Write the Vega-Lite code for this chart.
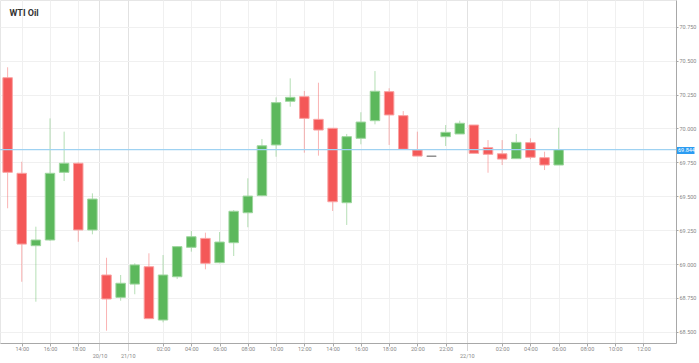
{
  "$schema": "https://vega.github.io/schema/vega-lite/v6.json",
  "width": 676,
  "height": 343,
  "autosize": {"type": "none"},
  "padding": {"left": 0, "top": 0, "right": 23, "bottom": 20},
  "background": "white",
  "title": {"text": "WTI Oil", "anchor": "start", "dx": 10, "offset": -18, "baseline": "top", "fontSize": 9, "fontWeight": "bold", "color": "#333", "font": "Roboto"},
  "config": {
    "view": {"stroke": "#e6e6e6"},
    "axis": {"labelFont": "Roboto", "labelFontSize": 5.5, "labelColor": "#888", "domainColor": "#a8a8a8", "tickColor": "#a8a8a8", "gridColor": "#f0f0f0", "labelOverlap": false, "labelSeparation": -50, "labelBound": false, "labelFlush": false, "title": null}
  },
  "data": {"values": [
    {"i": 0, "o": 70.374, "h": 70.451, "l": 69.411, "c": 69.676},
    {"i": 1, "o": 69.669, "h": 69.754, "l": 68.869, "c": 69.147},
    {"i": 2, "o": 69.135, "h": 69.275, "l": 68.722, "c": 69.177},
    {"i": 3, "o": 69.177, "h": 70.074, "l": 69.170, "c": 69.669},
    {"i": 4, "o": 69.676, "h": 69.976, "l": 69.612, "c": 69.743},
    {"i": 5, "o": 69.743, "h": 69.750, "l": 69.164, "c": 69.251},
    {"i": 6, "o": 69.251, "h": 69.521, "l": 69.219, "c": 69.479},
    {"i": 7, "o": 68.919, "h": 69.046, "l": 68.508, "c": 68.742},
    {"i": 8, "o": 68.754, "h": 68.919, "l": 68.729, "c": 68.858},
    {"i": 9, "o": 68.852, "h": 69.005, "l": 68.777, "c": 68.993},
    {"i": 10, "o": 68.980, "h": 69.079, "l": 68.597, "c": 68.597},
    {"i": 11, "o": 68.587, "h": 69.066, "l": 68.570, "c": 68.919},
    {"i": 12, "o": 68.906, "h": 69.130, "l": 68.889, "c": 69.128},
    {"i": 13, "o": 69.123, "h": 69.243, "l": 69.091, "c": 69.201},
    {"i": 14, "o": 69.189, "h": 69.231, "l": 68.961, "c": 69.005},
    {"i": 15, "o": 69.010, "h": 69.236, "l": 69.005, "c": 69.162},
    {"i": 16, "o": 69.157, "h": 69.398, "l": 69.059, "c": 69.389},
    {"i": 17, "o": 69.378, "h": 69.632, "l": 69.271, "c": 69.501},
    {"i": 18, "o": 69.504, "h": 69.922, "l": 69.500, "c": 69.872},
    {"i": 19, "o": 69.878, "h": 70.229, "l": 69.791, "c": 70.190},
    {"i": 20, "o": 70.200, "h": 70.369, "l": 70.160, "c": 70.229},
    {"i": 21, "o": 70.234, "h": 70.276, "l": 69.821, "c": 70.074},
    {"i": 22, "o": 70.067, "h": 70.337, "l": 69.799, "c": 69.988},
    {"i": 23, "o": 70.001, "h": 70.001, "l": 69.391, "c": 69.459},
    {"i": 24, "o": 69.452, "h": 69.959, "l": 69.288, "c": 69.939},
    {"i": 25, "o": 69.927, "h": 70.119, "l": 69.883, "c": 70.047},
    {"i": 26, "o": 70.057, "h": 70.423, "l": 70.030, "c": 70.274},
    {"i": 27, "o": 70.271, "h": 70.296, "l": 69.878, "c": 70.099},
    {"i": 28, "o": 70.094, "h": 70.128, "l": 69.846, "c": 69.846},
    {"i": 29, "o": 69.841, "h": 69.976, "l": 69.796, "c": 69.796},
    {"i": 30, "o": 69.795, "h": 69.795, "l": 69.795, "c": 69.795},
    {"i": 31, "o": 69.939, "h": 70.025, "l": 69.870, "c": 69.971},
    {"i": 32, "o": 69.959, "h": 70.057, "l": 69.959, "c": 70.038},
    {"i": 33, "o": 70.025, "h": 70.025, "l": 69.816, "c": 69.816},
    {"i": 34, "o": 69.858, "h": 69.914, "l": 69.673, "c": 69.809},
    {"i": 35, "o": 69.813, "h": 69.914, "l": 69.730, "c": 69.774},
    {"i": 36, "o": 69.777, "h": 69.959, "l": 69.777, "c": 69.897},
    {"i": 37, "o": 69.895, "h": 69.927, "l": 69.772, "c": 69.787},
    {"i": 38, "o": 69.784, "h": 69.828, "l": 69.693, "c": 69.730},
    {"i": 39, "o": 69.730, "h": 70.005, "l": 69.730, "c": 69.844}
  ]},
  "layer": [
    {
      "mark": {"type": "rule", "clip": true, "strokeWidth": 1, "opacity": 0.45},
      "encoding": {
        "x": {
          "field": "i", "type": "quantitative",
          "scale": {"domain": [-0.185, 46.95], "nice": false, "zero": false},
          "axis": {
            "orient": "bottom",
            "values": [1, 3, 5, 6.5, 8.5, 11, 13, 15, 17, 19, 21, 23, 25, 27, 29, 31, 32.5, 35, 37, 39, 41, 43, 45],
            "labelExpr": "datum.value == 6.5 ? '20/10' : datum.value == 8.5 ? '21/10' : datum.value == 32.5 ? '22/10' : format(datum.value < 7 ? 13 + datum.value : (datum.value - 9) % 24, '02d') + ':00'",
            "labelBaseline": "top",
            "labelOverlap": false,
            "tickSize": {"condition": {"test": "datum.value % 1 != 0", "value": 8}, "value": 3},
            "tickDash": {"condition": {"test": "datum.value % 1 != 0", "value": [1, 1]}, "value": []},
            "labelPadding": {"condition": {"test": "datum.value % 1 != 0", "value": 2}, "value": 0.5},
            "gridColor": {"condition": {"test": "datum.value % 1 != 0", "value": "#e2e2e2"}, "value": "#f0f0f0"}
          }
        },
        "y": {
          "field": "l", "type": "quantitative",
          "scale": {"domain": [68.4174, 70.947], "nice": false, "zero": false},
          "axis": {
            "orient": "right",
            "values": [68.5, 68.75, 69, 69.25, 69.5, 69.75, 69.844, 70, 70.25, 70.5, 70.75],
            "format": ".3f",
            "labelOverlap": false,
            "labelColor": {"condition": {"test": "datum.value == 69.844", "value": "#ffffff"}, "value": "#888888"},
            "tickSize": {"condition": {"test": "datum.value == 69.844", "value": 18}, "value": 2},
            "tickWidth": {"condition": {"test": "datum.value == 69.844", "value": 7}, "value": 1},
            "tickColor": {"condition": {"test": "datum.value == 69.844", "value": "#2b9cf2"}, "value": "#a8a8a8"},
            "labelPadding": {"condition": {"test": "datum.value == 69.844", "value": -16.5}, "value": 1},
            "gridOpacity": {"condition": {"test": "datum.value == 69.844", "value": 0}, "value": 1}
          }
        },
        "y2": {"field": "h"},
        "color": {
          "condition": [
            {"test": "datum.c > datum.o", "value": "#5cb85c"},
            {"test": "datum.c == datum.o", "value": "#888888"}
          ],
          "value": "#f45858"
        }
      }
    },
    {
      "mark": {"type": "bar", "clip": true, "width": 9.5, "strokeWidth": 1},
      "encoding": {
        "x": {
          "field": "i", "type": "quantitative",
          "scale": {"domain": [-0.185, 46.95], "nice": false, "zero": false},
          "axis": {
            "orient": "bottom",
            "values": [1, 3, 5, 6.5, 8.5, 11, 13, 15, 17, 19, 21, 23, 25, 27, 29, 31, 32.5, 35, 37, 39, 41, 43, 45],
            "labelExpr": "datum.value == 6.5 ? '20/10' : datum.value == 8.5 ? '21/10' : datum.value == 32.5 ? '22/10' : format(datum.value < 7 ? 13 + datum.value : (datum.value - 9) % 24, '02d') + ':00'",
            "labelBaseline": "top",
            "labelOverlap": false,
            "tickSize": {"condition": {"test": "datum.value % 1 != 0", "value": 8}, "value": 3},
            "tickDash": {"condition": {"test": "datum.value % 1 != 0", "value": [1, 1]}, "value": []},
            "labelPadding": {"condition": {"test": "datum.value % 1 != 0", "value": 2}, "value": 0.5},
            "gridColor": {"condition": {"test": "datum.value % 1 != 0", "value": "#e2e2e2"}, "value": "#f0f0f0"}
          }
        },
        "y": {
          "field": "o", "type": "quantitative",
          "scale": {"domain": [68.4174, 70.947], "nice": false, "zero": false},
          "axis": {
            "orient": "right",
            "values": [68.5, 68.75, 69, 69.25, 69.5, 69.75, 69.844, 70, 70.25, 70.5, 70.75],
            "format": ".3f",
            "labelOverlap": false,
            "labelColor": {"condition": {"test": "datum.value == 69.844", "value": "#ffffff"}, "value": "#888888"},
            "tickSize": {"condition": {"test": "datum.value == 69.844", "value": 18}, "value": 2},
            "tickWidth": {"condition": {"test": "datum.value == 69.844", "value": 7}, "value": 1},
            "tickColor": {"condition": {"test": "datum.value == 69.844", "value": "#2b9cf2"}, "value": "#a8a8a8"},
            "labelPadding": {"condition": {"test": "datum.value == 69.844", "value": -16.5}, "value": 1},
            "gridOpacity": {"condition": {"test": "datum.value == 69.844", "value": 0}, "value": 1}
          }
        },
        "y2": {"field": "c"},
        "fill": {
          "condition": [
            {"test": "datum.c > datum.o", "value": "#5cb85c"},
            {"test": "datum.c == datum.o", "value": "#888888"}
          ],
          "value": "#f45858"
        },
        "stroke": {
          "condition": [
            {"test": "datum.c > datum.o", "value": "#9ed69e"},
            {"test": "datum.c == datum.o", "value": "#888888"}
          ],
          "value": "#f9a3a3"
        }
      }
    },
    {
      "data": {"values": [{"price": 69.844}]},
      "mark": {"type": "rule", "color": "#9fd2f2", "strokeWidth": 1.2},
      "encoding": {
        "y": {
          "field": "price", "type": "quantitative",
          "scale": {"domain": [68.4174, 70.947], "nice": false, "zero": false},
          "axis": {
            "orient": "right",
            "values": [68.5, 68.75, 69, 69.25, 69.5, 69.75, 69.844, 70, 70.25, 70.5, 70.75],
            "format": ".3f",
            "labelOverlap": false,
            "labelColor": {"condition": {"test": "datum.value == 69.844", "value": "#ffffff"}, "value": "#888888"},
            "tickSize": {"condition": {"test": "datum.value == 69.844", "value": 18}, "value": 2},
            "tickWidth": {"condition": {"test": "datum.value == 69.844", "value": 7}, "value": 1},
            "tickColor": {"condition": {"test": "datum.value == 69.844", "value": "#2b9cf2"}, "value": "#a8a8a8"},
            "labelPadding": {"condition": {"test": "datum.value == 69.844", "value": -16.5}, "value": 1},
            "gridOpacity": {"condition": {"test": "datum.value == 69.844", "value": 0}, "value": 1}
          }
        }
      }
    }
  ]
}
